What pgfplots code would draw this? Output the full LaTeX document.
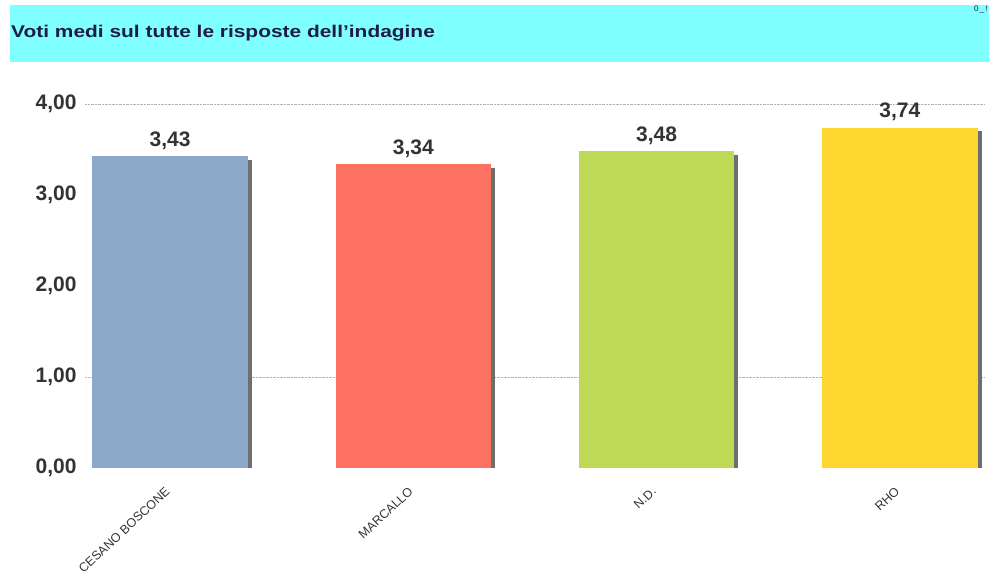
\documentclass[border=0pt]{standalone}
\usepackage{pgfplots}
\pgfplotsset{compat=1.18}
\usepackage{fontspec}
\setmainfont{Liberation Sans}
\definecolor{titlebg}{HTML}{80FFFF}
\definecolor{titletxt}{HTML}{1C1C4C}
\definecolor{cA}{HTML}{8DA9CA}
\definecolor{cB}{HTML}{FE7262}
\definecolor{cC}{HTML}{BDD956}
\definecolor{cD}{HTML}{FED62F}
\definecolor{shad}{HTML}{6E6E6E}
\definecolor{lbl}{HTML}{333333}
\begin{document}
\begin{tikzpicture}[x=1pt,y=1pt]
\useasboundingbox (0,0) rectangle (989,576);
\fill[titlebg] (10,514) rectangle (989,571);
\node[anchor=base west, inner sep=0pt, font=\bfseries\fontsize{17}{20}\selectfont, text=titletxt] at (11,538) {\scalebox{1.23}[1]{Voti medi sul tutte le risposte dell'indagine}};
\node[anchor=north east, inner sep=0pt, font=\fontsize{8}{9}\selectfont, text=titletxt] at (988,570) {0\,\_\,!};
\begin{axis}[
  at={(85pt,108pt)}, anchor=south west,
  scale only axis, width=900pt, height=364pt,
  xmin=-0.35, xmax=3.35, ymin=0, ymax=4,
  ybar, bar width=0.64, bar shift=0pt,
  axis line style={draw=none},
  major tick length=0pt,
  ytick={0,1,2,3,4},
  xtick={0,1,2,3},
  xticklabels={CESANO BOSCONE, MARCALLO, N.D., RHO},
  x tick label style={rotate=43, anchor=north east, font=\fontsize{12.5}{15}\selectfont, text=lbl, yshift=-6pt, xshift=-13pt},
  y tick label style={font=\bfseries\fontsize{21}{24}\selectfont, text=lbl, xshift=-5pt},
  extra y ticks={1,4},
  extra y tick labels={},
  extra y tick style={grid=major, major grid style={densely dotted, gray!60}},
  /pgf/number format/use comma,
  /pgf/number format/fixed,
  /pgf/number format/fixed zerofill,
  /pgf/number format/precision=2,
  /pgf/number format/assume math mode=true,
  clip=false,
]
% shadows
\addplot[fill=shad, draw=none, bar shift=4pt] coordinates {(0,3.39)};
\addplot[fill=shad, draw=none, bar shift=4pt] coordinates {(1,3.30)};
\addplot[fill=shad, draw=none, bar shift=4pt] coordinates {(2,3.44)};
\addplot[fill=shad, draw=none, bar shift=4pt] coordinates {(3,3.70)};
% bars
\pgfplotsset{every node near coord/.append style={font=\bfseries\fontsize{21}{24}\selectfont, text=lbl, yshift=3pt}}
\addplot[fill=cA, draw=none, nodes near coords] coordinates {(0,3.43)};
\addplot[fill=cB, draw=none, nodes near coords] coordinates {(1,3.34)};
\addplot[fill=cC, draw=none, nodes near coords] coordinates {(2,3.48)};
\addplot[fill=cD, draw=none, nodes near coords] coordinates {(3,3.74)};
\end{axis}
\end{tikzpicture}
\end{document}
